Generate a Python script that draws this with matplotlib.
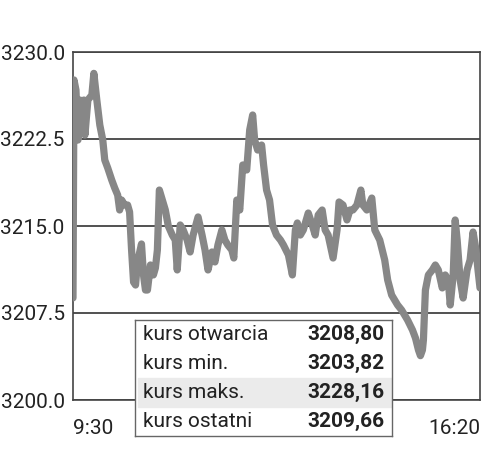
import matplotlib.pyplot as plt

plt.rcParams['font.family'] = ['Roboto', 'DejaVu Sans']

# minuty od 9:30 i kurs indeksu
minutes = [0, 1, 3, 5, 7, 9, 11, 12, 15, 19, 21, 24, 27, 30, 32, 35, 39, 42, 45, 47,
           49, 52, 55, 57, 59, 61, 63, 65, 69, 71, 73, 75, 78, 81, 83, 85, 87, 90, 93, 96,
           100, 103, 105, 108, 111, 115, 118, 121, 126, 130, 133, 136, 140, 143, 146, 150,
           153, 156, 160, 162, 165, 168, 171, 175, 178, 181, 183, 186, 190, 192, 195, 198,
           201, 205, 209, 212, 217, 221, 224, 226, 229, 232, 237, 241, 244, 247, 251, 254,
           257, 262, 266, 268, 272, 276, 279, 282, 286, 290, 292, 296, 301, 304, 309, 314,
           317, 321, 324, 327, 331, 334, 337, 342, 345, 348, 350, 352, 353, 355, 358, 362,
           365, 368, 372, 375, 378, 380, 383, 385, 387, 390, 393, 397, 400, 403, 406, 408, 410]
prices = [3208.80, 3227.59, 3226.72, 3222.41, 3225.86, 3223.71, 3225.86, 3222.84, 3225.86, 3226.29,
          3228.16, 3225.86, 3223.71, 3222.41, 3220.69, 3220.00, 3218.97, 3218.28, 3217.67, 3216.38,
          3217.24, 3216.81, 3216.81, 3216.21, 3212.93, 3210.17, 3209.91, 3211.90, 3213.45, 3210.78,
          3209.48, 3209.48, 3211.64, 3210.78, 3211.38, 3212.93, 3218.10, 3217.24, 3216.38, 3215.00,
          3214.22, 3213.79, 3211.21, 3215.09, 3214.66, 3213.79, 3212.76, 3214.22, 3215.78, 3214.22,
          3212.93, 3211.21, 3212.76, 3211.90, 3213.36, 3214.66, 3213.79, 3213.36, 3212.93, 3212.24,
          3217.24, 3216.38, 3220.26, 3219.83, 3223.28, 3224.57, 3222.41, 3221.55, 3221.98, 3220.26,
          3218.10, 3217.24, 3215.09, 3214.22, 3213.79, 3213.36, 3212.50, 3210.78, 3214.66, 3215.26,
          3214.22, 3214.66, 3216.12, 3215.09, 3214.22, 3215.95, 3216.38, 3214.66, 3214.22, 3212.24,
          3214.66, 3217.07, 3216.81, 3215.52, 3216.38, 3216.38, 3216.81, 3218.10, 3216.81, 3216.38,
          3217.41, 3214.66, 3213.79, 3212.07, 3210.34, 3209.05, 3208.62, 3208.19, 3207.76, 3207.33,
          3206.90, 3206.03, 3205.34, 3204.31, 3203.82, 3204.31, 3205.17, 3209.48, 3210.78, 3211.21,
          3211.64, 3211.21, 3209.66, 3210.78, 3210.34, 3208.19, 3210.78, 3215.52, 3213.79, 3210.34,
          3208.79, 3211.21, 3212.07, 3214.48, 3212.93, 3211.21, 3209.66]

y_ticks = [3200.0, 3207.5, 3215.0, 3222.5, 3230.0]
x_labels = ['9:30', '16:20']

table_labels = ['kurs otwarcia', 'kurs min.', 'kurs maks.', 'kurs ostatni']
table_values = ['3208,80', '3203,82', '3228,16', '3209,66']

fig = plt.figure(figsize=(5, 4.55), dpi=100)
ax = fig.add_axes([73 / 500, 55 / 455, 407 / 500, 348 / 455])

ax.plot(minutes, prices, color='#878787', lw=5.2, solid_joinstyle='round',
        solid_capstyle='round', zorder=3)

ax.set_xlim(0, 410)
ax.set_ylim(3200, 3230)
ax.set_yticks(y_ticks)
ax.set_yticklabels([f'{v:.1f}' for v in y_ticks], fontsize=15, color='#222222')
ax.set_xticks([0, 410])
ax.set_xticklabels(x_labels, fontsize=15, color='#222222')
xl = ax.get_xticklabels()
xl[0].set_ha('left')
xl[1].set_ha('right')
ax.tick_params(axis='both', length=0)
ax.tick_params(axis='y', pad=6)
ax.tick_params(axis='x', pad=14)

# linie siatki
ax.grid(axis='y', color='#333333', lw=1.2, zorder=1)
for s in ax.spines.values():
    s.set_color('#444444')
    s.set_linewidth(1.2)

# tabelka z kursami
tab = fig.add_axes([135 / 500, 19 / 455, 257 / 500, 116 / 455])
tab.set_xlim(0, 1)
tab.set_ylim(0, 4)
tab.set_xticks([])
tab.set_yticks([])
for s in tab.spines.values():
    s.set_color('#666666')
    s.set_linewidth(1.0)
n = len(table_labels)
for i, (lab, val) in enumerate(zip(table_labels, table_values)):
    yc = n - i - 0.5
    if lab == 'kurs maks.':
        tab.axhspan(yc - 0.5, yc + 0.5, xmin=0.01, color='#ebebeb', zorder=0)
    tab.text(0.03, yc, lab, fontsize=15, color='#222222', va='center', ha='left')
    tab.text(0.97, yc, val, fontsize=15, color='#222222', va='center', ha='right',
             fontweight='bold')

fig.savefig('out.png', dpi=100)
